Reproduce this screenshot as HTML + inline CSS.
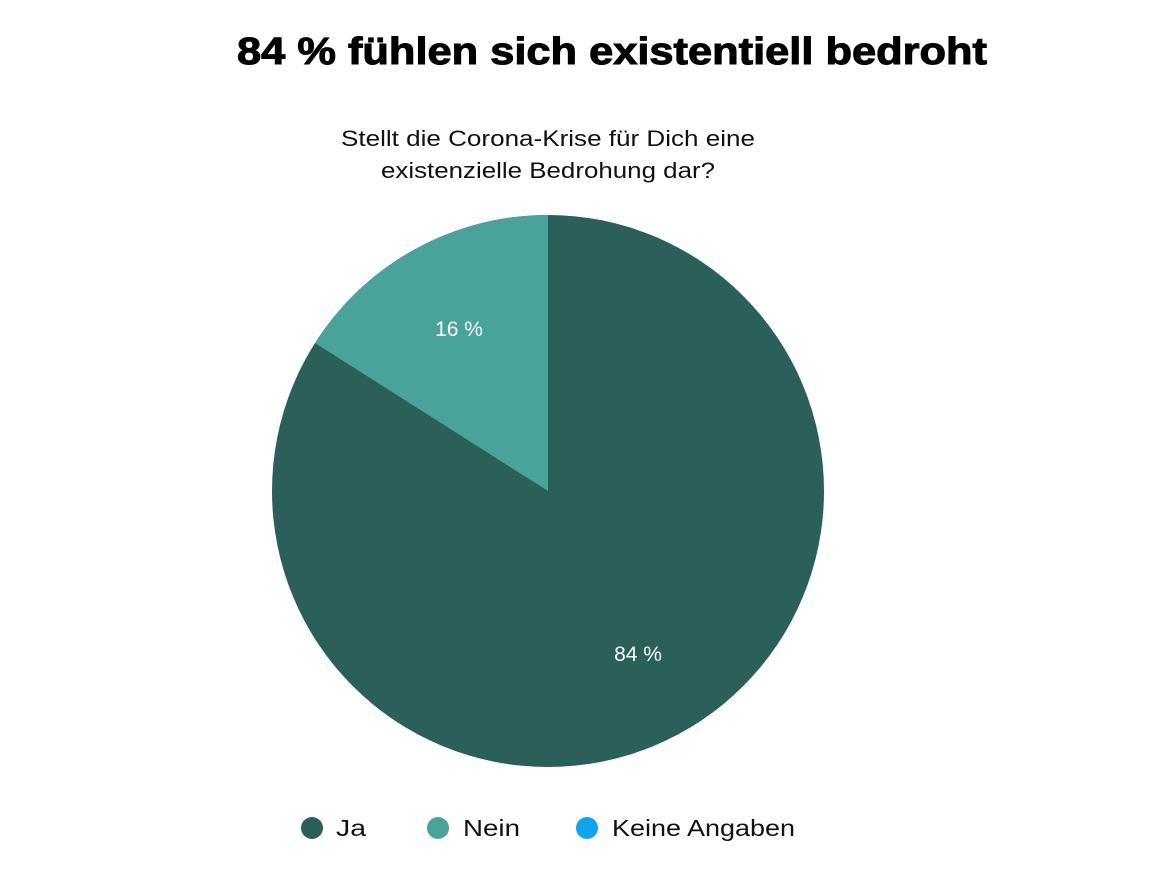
<!DOCTYPE html>
<html><head><meta charset="utf-8"><style>
body{margin:0;background:#fff;width:1164px;height:868px;overflow:hidden;font-family:"Liberation Sans",sans-serif}
</style></head><body>
<svg width="1164" height="868" xmlns="http://www.w3.org/2000/svg" font-family="Liberation Sans, sans-serif">
<text x="237" y="64" font-size="38" font-weight="bold" fill="#000" stroke="#000" stroke-width="1" textLength="750" lengthAdjust="spacingAndGlyphs">84 % fühlen sich existentiell bedroht</text>
<text x="341" y="146" font-size="22" fill="#111" textLength="414" lengthAdjust="spacingAndGlyphs">Stellt die Corona-Krise für Dich eine</text>
<text x="381" y="178" font-size="22" fill="#111" textLength="334" lengthAdjust="spacingAndGlyphs">existenzielle Bedrohung dar?</text>
<circle cx="548" cy="491" r="276" fill="#2a5f5a"/>
<path d="M548,491 L548,215 A276,276 0 0 0 315,343 Z" fill="#4aa39a"/>
<text x="459" y="336" text-anchor="middle" font-size="21" fill="#fff">16 %</text>
<text x="638" y="661" text-anchor="middle" font-size="21" fill="#fff">84 %</text>
<circle cx="312" cy="828" r="11" fill="#2a5f5a"/>
<text x="336" y="836" font-size="23" fill="#111" textLength="30" lengthAdjust="spacingAndGlyphs">Ja</text>
<circle cx="438" cy="828" r="11" fill="#4aa39a"/>
<text x="463" y="836" font-size="23" fill="#111" textLength="57" lengthAdjust="spacingAndGlyphs">Nein</text>
<circle cx="587" cy="828" r="11" fill="#0ea5ee"/>
<text x="612" y="836" font-size="23" fill="#111" textLength="183" lengthAdjust="spacingAndGlyphs">Keine Angaben</text>
</svg>
</body></html>
